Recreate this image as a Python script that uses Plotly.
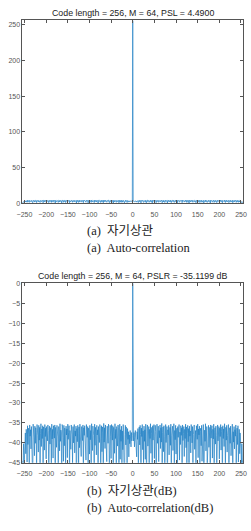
import plotly.graph_objects as go
import numpy as np

# ---- data ----
code_length = 256
lag_max = 255
# sidelobe level (dB) for lags 1..255; negative lags mirror these
sidelobe_db = [
    -38.2, -39.5, -37.4, -41.0, -38.6, -36.9, -40.2, -38.0, -43.5, -37.2, -39.1, -36.4, -47.0, -38.8, -36.0,
    -40.5, -35.6, -37.9, -52.0, -36.3, -38.4, -35.4, -41.7, -37.0, -46.0, -35.8, -39.6, -36.7, -44.1, -35.3,
    -38.1, -49.0, -36.2, -35.5, -40.8, -37.3, -35.9, -45.2, -36.6, -38.9, -35.2, -42.6, -37.7, -36.1, -58.0,
    -35.7, -39.3, -36.8, -35.4, -43.9, -38.3, -35.6, -37.1, -48.5, -36.4, -35.3, -40.1, -37.6, -35.8, -44.7,
    -36.9, -38.7, -35.5, -41.4, -36.2, -39.8, -35.12, -50.3, -37.4, -36.0, -42.2, -35.7, -38.5, -46.8, -36.3,
    -35.4, -39.9, -37.2, -35.9, -55.0, -36.7, -38.0, -35.6, -43.0, -37.8, -36.1, -40.6, -35.3, -47.7, -38.2,
    -36.5, -35.8, -41.9, -37.5, -35.2, -45.6, -36.9, -39.2, -35.6, -42.8, -37.0, -36.3, -51.5, -35.9, -38.6,
    -36.8, -35.4, -44.3, -37.3, -40.4, -35.7, -38.1, -36.2, -48.9, -35.5, -39.4, -37.7, -35.9, -43.4, -36.6,
    -38.9, -35.3, -41.2, -36.0, -46.3, -37.6, -35.6, -39.7, -36.4, -60.0, -35.8, -38.3, -37.0, -42.5, -35.4,
    -36.7, -40.0, -35.9, -45.0, -37.9, -36.2, -35.5, -41.6, -38.4, -36.9, -49.5, -35.7, -37.4, -39.1, -35.3,
    -43.7, -36.5, -38.0, -35.8, -47.2, -37.1, -36.3, -40.7, -35.6, -44.6, -38.7, -36.0, -35.4, -52.8, -37.5,
    -36.8, -39.6, -35.2, -42.0, -37.2, -35.9, -46.1, -38.5, -36.4, -35.6, -41.1, -37.8, -36.1, -57.0, -35.5,
    -38.8, -37.0, -35.7, -43.8, -36.6, -39.0, -35.3, -45.9, -37.3, -36.2, -40.3, -35.8, -38.2, -48.0, -36.9,
    -35.5, -39.5, -37.6, -35.9, -44.0, -36.3, -38.4, -35.4, -41.8, -37.1, -36.0, -50.8, -35.7, -38.9, -36.5,
    -40.9, -35.2, -37.7, -46.5, -36.1, -39.3, -35.6, -42.3, -38.1, -36.8, -35.4, -47.9, -37.4, -36.2, -40.1,
    -35.8, -43.2, -38.6, -36.4, -35.3, -49.8, -37.2, -39.8, -35.9, -41.5, -36.7, -38.3, -35.5, -45.4, -37.9,
    -36.3, -40.4, -35.7, -44.8, -38.0, -36.6, -42.7, -37.5, -39.9, -41.3, -46.6, -40.2, -43.1, -48.2, -44.5,
]
title_a = "Code length = 256, M = 64, PSL = 4.4900"
title_b = "Code length = 256, M = 64, PSLR = -35.1199 dB"
caption_a_ko = "(a)  자기상관"
caption_a_en = "(a)  Auto-correlation"
caption_b_ko = "(b)  자기상관(dB)"
caption_b_en = "(b)  Auto-correlation(dB)"
xticks = [-250, -200, -150, -100, -50, 0, 50, 100, 150, 200, 250]
yticks_a = [0, 50, 100, 150, 200, 250]
yticks_b = [0, -5, -10, -15, -20, -25, -30, -35, -40, -45]

lags = np.arange(-lag_max, lag_max + 1)
db_full = np.array(sidelobe_db[::-1] + [0.0] + sidelobe_db)
mag_full = code_length * 10 ** (db_full / 20)

W, H = 251, 531
def py(px):
    return 1 - px / H

line_color = "#1f7fc4"
axcol = "#555555"
tickfont = dict(family="Liberation Sans, Arial, sans-serif", size=7, color="#555555")

fig = go.Figure()
fig.add_trace(go.Scatter(x=lags, y=mag_full, mode="lines", line=dict(color=line_color, width=0.7),
                         xaxis="x", yaxis="y", showlegend=False))
fig.add_trace(go.Scatter(x=lags, y=db_full, mode="lines", line=dict(color=line_color, width=0.7),
                         xaxis="x2", yaxis="y2", showlegend=False))

xdom = [17 / W, 247 / W]
common = dict(showgrid=False, zeroline=False, showline=True, linecolor=axcol, linewidth=0.7,
              mirror="ticks", ticks="inside", ticklen=3, tickcolor=axcol, tickwidth=0.7,
              tickfont=tickfont)
fig.update_layout(
    width=W, height=H, margin=dict(l=0, r=0, t=0, b=0),
    paper_bgcolor="white", plot_bgcolor="white",
    xaxis=dict(domain=xdom, range=[-255, 255], tickvals=xticks, anchor="y", ticklabelstandoff=4, **common),
    yaxis=dict(domain=[py(202), py(16.7)], range=[0, 256], tickvals=yticks_a, anchor="x", **common),
    xaxis2=dict(domain=xdom, range=[-255, 255], tickvals=xticks, anchor="y2", ticklabelstandoff=4, **common),
    yaxis2=dict(domain=[py(465), py(283)], range=[-45, 0], tickvals=yticks_b, anchor="x2", **common),
)

titlefont = dict(family="Liberation Sans, Arial, sans-serif", size=8.8, color="#222222")
fig.add_annotation(text=title_a, x=132 / W, y=py(9), xref="paper", yref="paper",
                   showarrow=False, font=titlefont, xanchor="center", yanchor="middle")
fig.add_annotation(text=title_b, x=132 / W, y=py(276), xref="paper", yref="paper",
                   showarrow=False, font=titlefont, xanchor="center", yanchor="middle")

capfont = dict(family="Liberation Serif, Noto Sans CJK KR, serif", size=12.5, color="#222222")
for txt, ypx in [(caption_a_ko, 230), (caption_a_en, 247), (caption_b_ko, 493), (caption_b_en, 511)]:
    fig.add_annotation(text=txt, x=82 / W, y=py(ypx), xref="paper", yref="paper",
                       showarrow=False, font=capfont, xanchor="left", yanchor="middle")

fig.write_html("out.html")
